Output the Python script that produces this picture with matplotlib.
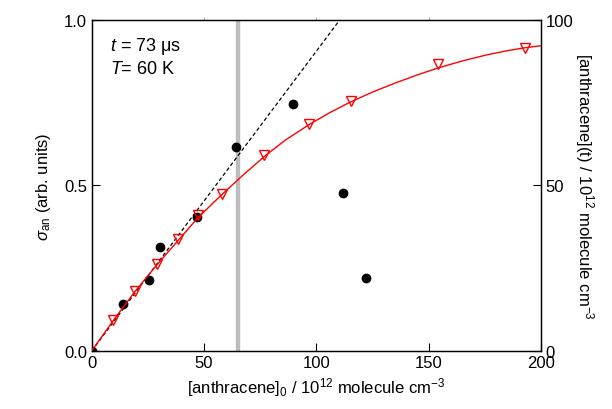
import numpy as np
import matplotlib
matplotlib.use('Agg')
import matplotlib.pyplot as plt
from matplotlib import rcParams

rcParams['font.family'] = ['Liberation Sans', 'DejaVu Sans']
rcParams['font.size'] = 12
rcParams['mathtext.fontset'] = 'custom'
rcParams['mathtext.rm'] = 'Liberation Sans'
rcParams['mathtext.it'] = 'Liberation Sans:italic'

# sigma_an signal (left axis)
conc_sig = [0.0, 13.7, 25.4, 30.5, 47.0, 64.1, 89.6, 111.9, 122.2]
sigma_an = [0.0, 0.142, 0.213, 0.313, 0.405, 0.616, 0.746, 0.478, 0.221]

# modelled [anthracene](t) (right axis)
conc_mod = [9.5, 19.2, 28.9, 38.5, 47.5, 57.9, 76.8, 96.6, 115.2, 154.3, 193.0]
anth_t = [9.4, 18.2, 26.2, 33.8, 41.1, 47.4, 59.3, 68.5, 75.6, 86.7, 91.4]

# red curve
curve_x = [0, 9.5, 19.2, 28.9, 38.5, 47.5, 57.9, 67, 76.8, 86, 96.6, 106, 115.2,
           125, 135, 145, 154.3, 165, 175, 185, 193, 200]
curve_y = [0, 9.1, 17.9, 25.9, 33.4, 40.4, 47.2, 52.9, 58.7, 63.6, 68.3, 72.0, 75.2,
           78.2, 80.9, 83.4, 85.5, 87.6, 89.3, 90.7, 91.6, 92.2]

# linear initial-slope line and gray marker
line_x = [0, 110.4]
line_y = [0, 1.0]
gray_x = 65.0

fig, ax = plt.subplots(figsize=(6.12, 4.10), dpi=100)
fig.subplots_adjust(left=0.150, right=0.884, top=0.949, bottom=0.142)
ax2 = ax.twinx()

ax.plot(line_x, line_y, color='black', ls=(0, (3, 2)), lw=0.9, zorder=2)
ax.axvline(gray_x, color='#bdbdbd', lw=3.2, zorder=1)
ax.plot(conc_sig, sigma_an, 'o', color='black', ms=6, zorder=4)

ax2.plot(curve_x, curve_y, color='red', lw=1.0, zorder=3)
ax2.plot(conc_mod, anth_t, 'v', mfc='none', mec='red', mew=1.0, ms=7, zorder=3)

ax.set_xlim(0, 200)
ax.set_ylim(0, 1.0)
ax2.set_ylim(0, 100)
ax.set_xticks([0, 50, 100, 150, 200])
ax.set_yticks([0.0, 0.5, 1.0])
ax.set_yticklabels(['0.0', '0.5', '1.0'])
ax2.set_yticks([0, 50, 100])

ax.tick_params(axis='both', direction='in', length=6, width=0.8, top=False)
ax2.tick_params(axis='y', direction='in', length=6, width=0.8)
ax.tick_params(axis='x', pad=3)
secx = ax.secondary_xaxis('top')
secx.set_xticks([50, 100, 150])
secx.tick_params(direction='out', length=2, width=0.5, labeltop=False, colors='#999999')
secx.spines['top'].set_visible(False)

ax.set_xlabel(r'[anthracene]$_\mathrm{0}$ / 10$^{\mathrm{12}}$ molecule cm$^{\mathrm{-3}}$',
              labelpad=4)
ax.set_ylabel(r'$\it{\sigma}_\mathrm{an}$ (arb. units)', labelpad=8)
ax2.set_ylabel(r'[anthracene](t) / 10$^{\mathrm{12}}$ molecule cm$^{\mathrm{-3}}$',
               rotation=270, labelpad=16)

ax.text(0.04, 0.91, r'$t$ = 73 $\mathrm{\mu}$s', transform=ax.transAxes, fontsize=13)
ax.text(0.04, 0.84, r'$T$= 60 K', transform=ax.transAxes, fontsize=13)

for a in (ax, ax2):
    for s in a.spines.values():
        s.set_linewidth(0.9)

fig.savefig('out.png', dpi=100)
